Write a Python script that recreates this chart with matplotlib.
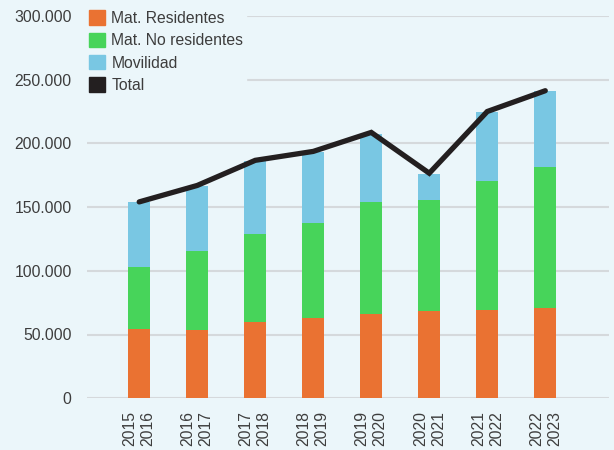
import matplotlib.pyplot as plt
from matplotlib.patches import Patch
from matplotlib.ticker import FuncFormatter

plt.rcParams['font.family'] = ['Liberation Sans', 'DejaVu Sans']

# data
cursos = ["2015\n2016", "2016\n2017", "2017\n2018", "2018\n2019",
          "2019\n2020", "2020\n2021", "2021\n2022", "2022\n2023"]
residentes = [54300, 53500, 59800, 63200, 66300, 68400, 69500, 71000]
no_residentes = [48600, 62000, 69000, 74200, 87600, 87100, 100900, 110300]
movilidad = [51000, 50900, 57200, 55700, 53300, 20400, 54100, 59600]
total = [154000, 166900, 186600, 193600, 208500, 176500, 224900, 241200]

BG = "#ebf6fa"
C_RES = "#ea7232"
C_NORES = "#47d45a"
C_MOV = "#79c7e3"
C_TOT = "#231f20"
TXT = "#3d3d3d"

fig = plt.figure(figsize=(6.14, 4.5), dpi=100, facecolor=BG)
ax = fig.add_axes([0.1417, 0.115, 0.8503, 0.85], facecolor=BG)

x = list(range(len(cursos)))
w = 0.385
bottom2 = residentes
bottom3 = [a + b for a, b in zip(residentes, no_residentes)]
ax.bar(x, residentes, w, color=C_RES, zorder=2)
ax.bar(x, no_residentes, w, bottom=bottom2, color=C_NORES, zorder=2)
ax.bar(x, movilidad, w, bottom=bottom3, color=C_MOV, zorder=2)
ax.plot(x, total, color=C_TOT, lw=3.8, solid_capstyle="round",
        solid_joinstyle="miter", zorder=3)

ax.set_xlim(-0.9, 8.1)
ax.set_ylim(0, 300000)
ax.set_yticks(range(0, 300001, 50000))
ax.yaxis.set_major_formatter(
    FuncFormatter(lambda v, p: f"{int(v):,}".replace(",", ".")))
ax.grid(axis="y", color="#d5d9dc", lw=1.5, zorder=1)
ax.set_axisbelow(True)
for s in ax.spines.values():
    s.set_visible(False)

ax.set_xticks(x)
ax.set_xticklabels(cursos, rotation=90, ha="center", va="top",
                   linespacing=1.25)
ax.tick_params(axis="both", length=0, labelsize=11.3, labelcolor=TXT)
ax.tick_params(axis="x", pad=9)
ax.tick_params(axis="y", pad=11)

handles = [Patch(color=C_RES, label="Mat. Residentes"),
           Patch(color=C_NORES, label="Mat. No residentes"),
           Patch(color=C_MOV, label="Movilidad"),
           Patch(color=C_TOT, label="Total")]
leg = ax.legend(handles=handles, loc="upper left", bbox_to_anchor=(-0.003, 1.022),
                frameon=True, facecolor=BG, edgecolor=BG, framealpha=1,
                fontsize=11.3, handlelength=1.05, handleheight=1.05,
                handletextpad=0.4, labelspacing=0.42, borderpad=0.2,
                borderaxespad=0)
for t in leg.get_texts():
    t.set_color(TXT)

fig.savefig("out.png", dpi=100, facecolor=BG)
